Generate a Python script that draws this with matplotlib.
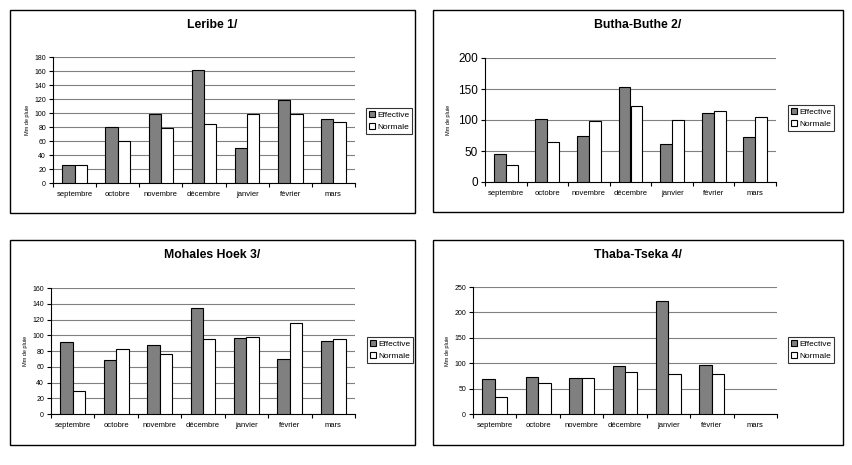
import numpy as np
import matplotlib as mpl
mpl.use('Agg')
import matplotlib.pyplot as plt
from matplotlib.patches import Rectangle

mois = ['septembre', 'octobre', 'novembre', 'décembre', 'janvier', 'février', 'mars']
titres = ['Leribe 1/', 'Butha-Buthe 2/', 'Mohales Hoek 3/', 'Thaba-Tseka 4/']

leribe_eff = [26, 80, 98, 162, 50, 118, 91]
leribe_norm = [26, 60, 78, 84, 99, 99, 87]
butha_eff = [45, 102, 74, 154, 61, 112, 73]
butha_norm = [27, 65, 99, 123, 100, 115, 105]
mohales_eff = [92, 69, 88, 135, 97, 70, 93]
mohales_norm = [29, 83, 76, 95, 98, 115, 95]
thaba_eff = [68, 72, 70, 94, 222, 96, np.nan]
thaba_norm = [33, 62, 70, 82, 78, 78, np.nan]

effectives = [leribe_eff, butha_eff, mohales_eff, thaba_eff]
normales = [leribe_norm, butha_norm, mohales_norm, thaba_norm]
ymax = [180, 200, 160, 250]
ystep = [20, 50, 20, 50]
ytick_size = [5, 8.5, 5, 5]

W, H = 852, 465
plt.rcParams['font.family'] = ['Liberation Sans', 'DejaVu Sans']
fig = plt.figure(figsize=(W / 100, H / 100), dpi=100)

# boites (x0, y0, x1, y1) en pixels depuis le haut
boites = [(10, 10, 415, 213), (433, 10, 843, 212), (10, 240, 415, 445), (433, 240, 843, 445)]
axes_px = [(53, 57, 355, 183), (485, 58, 776, 182), (51, 288, 355, 414), (473, 287, 777, 414)]
leg_px = [(366, 108), (788, 105), (367, 337), (788, 337)]

def fx(x):
    return x / W

def fy(y):
    return 1 - y / H

for i in range(4):
    bx0, by0, bx1, by1 = boites[i]
    fig.patches.append(Rectangle((fx(bx0), fy(by1)), fx(bx1 - bx0), (by1 - by0) / H,
                                 transform=fig.transFigure, fill=False, edgecolor='black', lw=1))
    fig.text(fx((bx0 + bx1) / 2), fy(by0 + 15), titres[i], ha='center', va='center',
             fontsize=8.8, fontweight='bold')

    ax0, ay0, ax1, ay1 = axes_px[i]
    ax = fig.add_axes([fx(ax0), fy(ay1), fx(ax1 - ax0), (ay1 - ay0) / H])
    x = np.arange(len(mois))
    w = 0.286
    b1 = ax.bar(x - w / 2, effectives[i], w, color='#808080', edgecolor='black', lw=0.8,
                label='Effective', zorder=3)
    b2 = ax.bar(x + w / 2, normales[i], w, color='white', edgecolor='black', lw=0.8,
                label='Normale', zorder=3)
    ax.set_xlim(-0.5, len(mois) - 0.5)
    ax.set_ylim(0, ymax[i])
    ax.set_yticks(np.arange(0, ymax[i] + 1, ystep[i]))
    ax.set_xticks(np.arange(-0.5, len(mois), 1))
    ax.set_xticklabels([])
    ax.set_xticks(x, minor=True)
    ax.set_xticklabels(mois, minor=True, fontsize=5.5)
    ax.tick_params(axis='x', which='minor', length=0, pad=6)
    ax.tick_params(axis='x', which='major', length=3, direction='out')
    ax.tick_params(axis='y', labelsize=ytick_size[i], length=3, pad=2)
    ax.yaxis.grid(True, color='#808080', lw=0.8, zorder=0)
    for s in ['top', 'right']:
        ax.spines[s].set_visible(False)
    ax.spines['left'].set_linewidth(0.8)
    ax.spines['bottom'].set_linewidth(0.8)
    ax.set_ylabel('Mm de pluie', fontsize=4, labelpad=3 if ytick_size[i] < 6 else 5)

    lx, ly = leg_px[i]
    leg = fig.legend(handles=[b1, b2], loc='upper left',
                     bbox_to_anchor=(fx(lx), fy(ly)), fontsize=6, frameon=True,
                     fancybox=False, edgecolor='black', handlelength=0.7, handleheight=0.7,
                     handletextpad=0.3, borderpad=0.35, labelspacing=0.5, borderaxespad=0)
    leg.get_frame().set_linewidth(0.8)

plt.savefig('out.png', dpi=100)
